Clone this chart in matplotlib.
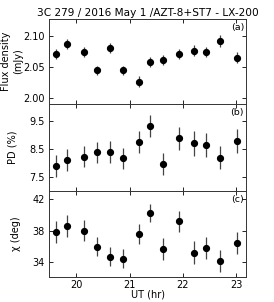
import matplotlib
matplotlib.use("Agg")
import matplotlib.pyplot as plt

ut = [19.63, 19.83, 20.14, 20.39, 20.64, 20.87, 21.18, 21.38, 21.62, 21.93, 22.20, 22.44, 22.69, 23.02]
flux = [2.071, 2.087, 2.074, 2.044, 2.080, 2.044, 2.026, 2.058, 2.061, 2.071, 2.076, 2.074, 2.092, 2.065]
flux_err = [0.008, 0.008, 0.008, 0.008, 0.008, 0.008, 0.009, 0.008, 0.008, 0.008, 0.009, 0.008, 0.010, 0.009]
pd = [7.90, 8.11, 8.23, 8.38, 8.40, 8.18, 8.75, 9.31, 7.98, 8.88, 8.70, 8.63, 8.20, 8.79]
pd_err = [0.38, 0.40, 0.38, 0.38, 0.38, 0.37, 0.40, 0.40, 0.38, 0.40, 0.45, 0.42, 0.42, 0.42]
chi = [37.8, 38.63, 38.0, 35.98, 34.68, 34.46, 37.58, 40.23, 35.65, 39.19, 35.22, 35.85, 34.21, 36.45]
chi_err = [1.4, 1.4, 1.3, 1.2, 1.2, 1.2, 1.3, 1.2, 1.4, 1.3, 1.5, 1.4, 1.4, 1.4]

title = "3C 279 / 2016 May 1 /AZT-8+ST7 - LX-200"
ylabels = ["Flux density\n(mJy)", "PD (%)", "\u03c7 (deg)"]
panel_tags = ["(a)", "(b)", "(c)"]
xticks = [20, 21, 22, 23]
yticks_list = [[2.00, 2.05, 2.10], [7.5, 8.5, 9.5], [34, 38, 42]]
ylims = [(1.989, 2.128), (7.03, 10.08), (32.1, 43.05)]

fig = plt.figure(figsize=(2.74, 3.02), dpi=100)
left, width = 0.180, 0.718
bounds = [(0.6546, 0.938), (0.3685, 0.6546), (0.0818, 0.3685)]
series = [(flux, flux_err), (pd, pd_err), (chi, chi_err)]
label_x = [0.045, 0.045, 0.058]

for i, ((b, t), (y, e)) in enumerate(zip(bounds, series)):
    ax = fig.add_axes([left, b, width, t - b])
    ax.errorbar(ut, y, yerr=e, fmt='o', color='black', ecolor='#444444',
                markersize=4.2, elinewidth=0.9, capsize=0)
    ax.set_xlim(19.5, 23.18)
    ax.set_ylim(*ylims[i])
    ax.set_xticks(xticks)
    ax.set_yticks(yticks_list[i])
    if i == 0:
        ax.set_yticklabels([f"{v:.2f}" for v in yticks_list[i]])
    ax.tick_params(direction='in', top=True, right=True, length=3, width=0.6,
                   labelsize=7, pad=3.5)
    ax.tick_params(axis='x', pad=2)
    for s in ax.spines.values():
        s.set_linewidth(0.7)
        s.set_color('#333333')
    ax.text(0.99, 0.955, panel_tags[i], transform=ax.transAxes, ha='right',
            va='top', fontsize=6.8)
    ax.set_ylabel(ylabels[i], fontsize=7, linespacing=1.25)
    ax.yaxis.set_label_coords(label_x[i], (b + t) / 2, transform=fig.transFigure)
    ax.yaxis.label.set_va('center')
    if i < 2:
        ax.tick_params(labelbottom=False)
    else:
        ax.set_xlabel("UT (hr)", fontsize=7)
        ax.xaxis.set_label_coords(left + width / 2, 0.024, transform=fig.transFigure)
        ax.xaxis.label.set_va('center')
    if i == 0:
        ax.set_title(title, fontsize=7.6, pad=2)

fig.savefig("out.png", dpi=100)
